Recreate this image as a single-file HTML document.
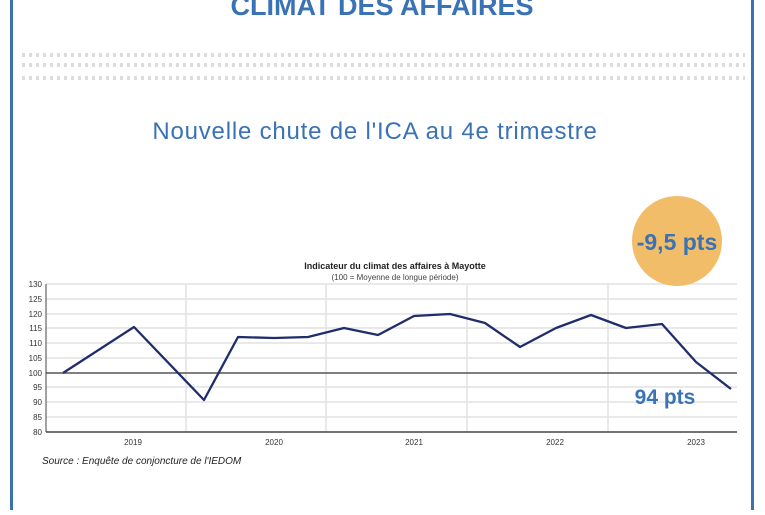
<!DOCTYPE html><html><head><style>body{margin:0;width:765px;height:510px;overflow:hidden;background:#fff;font-family:"Liberation Sans",sans-serif}</style></head><body>
<svg width="765" height="510" xmlns="http://www.w3.org/2000/svg">
<rect x="10" y="-5" width="3" height="520" fill="#3a72b6"/>
<rect x="751" y="-5" width="3" height="520" fill="#3a72b6"/>
<text x="382" y="15" text-anchor="middle" font-size="27" font-weight="bold" fill="#3a72b6">CLIMAT DES AFFAIRES</text>
<g stroke="#dcdcdc" stroke-width="4" stroke-dasharray="3,4">
<line x1="22" y1="55" x2="745" y2="55"/><line x1="22" y1="65" x2="745" y2="65"/><line x1="22" y1="78" x2="745" y2="78"/></g>
<text x="375" y="139" text-anchor="middle" font-size="24" letter-spacing="0.8" fill="#3a72b6">Nouvelle chute de l'ICA au 4e trimestre</text>
<g stroke="#e2e2e2" stroke-width="1.5">
<line x1="46" y1="284" x2="737" y2="284"/><line x1="46" y1="299" x2="737" y2="299"/><line x1="46" y1="314" x2="737" y2="314"/><line x1="46" y1="328" x2="737" y2="328"/><line x1="46" y1="343" x2="737" y2="343"/><line x1="46" y1="358" x2="737" y2="358"/><line x1="46" y1="387" x2="737" y2="387"/><line x1="46" y1="402" x2="737" y2="402"/><line x1="46" y1="417" x2="737" y2="417"/>
<line x1="186" y1="284" x2="186" y2="432"/><line x1="326" y1="284" x2="326" y2="432"/><line x1="467" y1="284" x2="467" y2="432"/><line x1="608" y1="284" x2="608" y2="432"/></g>
<line x1="46" y1="373" x2="737" y2="373" stroke="#555" stroke-width="1.5"/>
<line x1="46" y1="432" x2="737" y2="432" stroke="#444" stroke-width="1.5"/>
<line x1="46" y1="284" x2="46" y2="432" stroke="#444" stroke-width="1"/>
<g font-size="8" fill="#333" text-anchor="end">
<text x="42" y="287">130</text><text x="42" y="302">125</text><text x="42" y="317">120</text><text x="42" y="331">115</text><text x="42" y="346">110</text><text x="42" y="361">105</text><text x="42" y="376">100</text><text x="42" y="390">95</text><text x="42" y="405">90</text><text x="42" y="420">85</text><text x="42" y="435">80</text></g>
<g font-size="8" fill="#333" text-anchor="middle">
<text x="133" y="445">2019</text><text x="274" y="445">2020</text><text x="414" y="445">2021</text><text x="555" y="445">2022</text><text x="696" y="445">2023</text></g>
<text x="395" y="269" text-anchor="middle" font-size="9" font-weight="bold" fill="#222">Indicateur du climat des affaires à Mayotte</text>
<text x="395" y="280" text-anchor="middle" font-size="8" fill="#444">(100 = Moyenne de longue période)</text>
<polyline fill="none" stroke="#1f2d6b" stroke-width="2.3" stroke-linejoin="round" points="63,373 134,327 204,400 238,337 274,338 308,337 344,328 378,335 414,316 450,314 485,323 520,347 556,328 591,315 626,328 662,324 696,362 731,389"/>
<text x="42" y="464" font-size="10" font-style="italic" fill="#222">Source : Enquête de conjoncture de l'IEDOM</text>
<circle cx="677" cy="241" r="45" fill="#f2bd68"/>
<text x="677" y="250" text-anchor="middle" font-size="23" font-weight="bold" fill="#3a72b6">-9,5 pts</text>
<text x="665" y="404" text-anchor="middle" font-size="21" font-weight="bold" fill="#3a72b6">94 pts</text>
</svg></body></html>
